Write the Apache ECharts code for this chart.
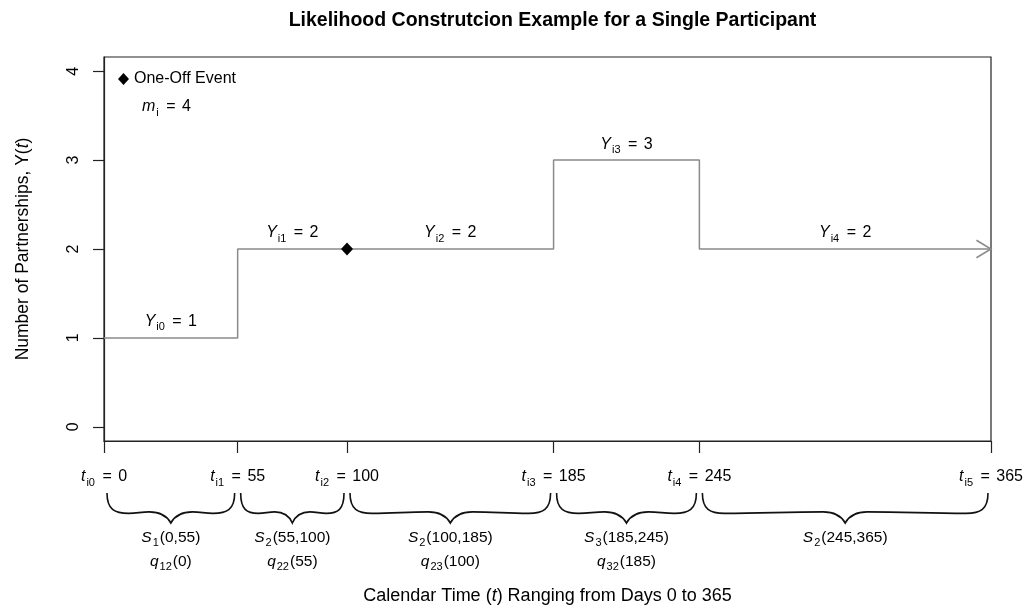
<!DOCTYPE html>
<html>
<head>
<meta charset="utf-8">
<script src="https://cdn.jsdelivr.net/npm/echarts@6/dist/echarts.min.js"></script>
<style>
  html, body { margin: 0; padding: 0; background: #fff; }
  #chart { width: 1027px; height: 610px; }
</style>
</head>
<body>
<div id="chart"></div>
<script>
// Times at which the participant's partnership count may change (days)
const changeTimes = [0, 55, 100, 185, 245, 365];
const timeSubs = ['i0', 'i1', 'i2', 'i3', 'i4', 'i5'];
// Partnership count held over each interval [t_ij, t_i(j+1))
const intervalCounts = [1, 2, 2, 3, 2];
const countSubs = ['i0', 'i1', 'i2', 'i3', 'i4'];
// State index and transition intensity subscripts for each interval
const intervalStates = [1, 2, 2, 3, 2];
const transitionSubs = ['12', '22', '23', '32', null];
// One-off events
const eventTimes = [100];
const eventCounts = [2];
const yTicks = [0, 1, 2, 3, 4];
const transitionTotal = 4;

const FONT = 'Liberation Sans, Arial, Helvetica, sans-serif';
const INK = '#000';
const STEP_COLOR = '#8a8a8a';

function richSet(size, subSize, lh) {
  return {
    n:   { fontFamily: FONT, fontSize: size, color: INK, lineHeight: lh },
    it:  { fontFamily: FONT, fontSize: size, color: INK, lineHeight: lh, fontStyle: 'italic' },
    eq:  { fontFamily: FONT, fontSize: size, color: INK, lineHeight: lh, padding: [0, 2, 0, 2] },
    sub: { fontFamily: FONT, fontSize: subSize, color: INK, lineHeight: subSize, verticalAlign: 'bottom', padding: [0, 1, 0, 1] }
  };
}
const rich16 = richSet(16, 11, 22);
const richBrace = richSet(15.5, 11, 21);
const richTitle = richSet(18, 12, 24);

// step path points: count holds until the next change time
const stepPoints = changeTimes.map((t, i) => [t, intervalCounts[Math.min(i, intervalCounts.length - 1)]]);
const intervalData = intervalCounts.map((c, i) => [changeTimes[i], changeTimes[i + 1], c, intervalStates[i]]);
const eventData = eventTimes.map((t, i) => [t, eventCounts[i]]);

function bracePath(x0, x1, top, H) {
  const xc = (x0 + x1) / 2, hw = (x1 - x0) / 2;
  const r = Math.min(22, hw * 0.34);
  const yb = top + 0.68 * H, ym = top + 0.63 * H, yt = top + H;
  const run = (hw - 2 * r) * 0.4;
  let d = `M${x0},${top} C${x0},${top + 0.55 * H} ${x0 + 0.35 * r},${yb} ${x0 + r},${yb}`;
  d += ` C${x0 + r + run},${yb} ${xc - r - run},${ym} ${xc - r},${ym}`;
  d += ` C${xc - 0.45 * r},${ym} ${xc - 0.15 * r},${top + 0.8 * H} ${xc},${yt}`;
  d += ` C${xc + 0.15 * r},${top + 0.8 * H} ${xc + 0.45 * r},${ym} ${xc + r},${ym}`;
  d += ` C${xc + r + run},${ym} ${x1 - r - run},${yb} ${x1 - r},${yb}`;
  d += ` C${x1 - 0.35 * r},${yb} ${x1},${top + 0.55 * H} ${x1},${top}`;
  return d;
}

function renderInterval(params, api) {
  const i = params.dataIndex;
  const s = api.value(0), e = api.value(1), c = api.value(2), k = api.value(3);
  const pS = api.coord([s, c]);
  const pE = api.coord([e, c]);
  const cs = params.coordSys;
  const base = cs.y + cs.height;
  const xc = (pS[0] + pE[0]) / 2;
  const children = [
    {
      type: 'text',
      style: {
        x: xc, y: pS[1] - 16, align: 'center', verticalAlign: 'middle',
        text: `{it|Y}{sub|${countSubs[i]}}{eq| = }{n|${c}}`, rich: rich16
      }
    },
    {
      type: 'path',
      shape: { pathData: bracePath(pS[0] + 3, pE[0] - 3, base + 52, 30) },
      style: { stroke: '#111', fill: 'none', lineWidth: 1.6 }
    },
    {
      type: 'text',
      style: {
        x: xc, y: base + 97, align: 'center', verticalAlign: 'middle',
        text: `{it|S}{sub|${k}}{n|(${s},${e})}`, rich: richBrace
      }
    }
  ];
  if (transitionSubs[i]) {
    children.push({
      type: 'text',
      style: {
        x: xc, y: base + 121, align: 'center', verticalAlign: 'middle',
        text: `{it|q}{sub|${transitionSubs[i]}}{n|(${s})}`, rich: richBrace
      }
    });
  }
  return { type: 'group', children };
}

function renderArrow(params, api) {
  const p = api.coord([api.value(0), api.value(1)]);
  const len = 17, ang = 31 * Math.PI / 180;
  const dx = len * Math.cos(ang), dy = len * Math.sin(ang);
  return {
    type: 'polyline',
    shape: { points: [[p[0] - dx, p[1] - dy], [p[0], p[1]], [p[0] - dx, p[1] + dy]] },
    style: { stroke: STEP_COLOR, fill: 'none', lineWidth: 1.5 }
  };
}

const chart = echarts.init(document.getElementById('chart'), null, { renderer: 'canvas' });
chart.setOption({
  animation: false,
  backgroundColor: '#fff',
  title: {
    text: 'Likelihood Construtcion Example for a Single Participant',
    left: 547.5, top: 6, textAlign: 'center',
    textStyle: { fontFamily: FONT, fontSize: 19.5, fontWeight: 'bold', color: INK }
  },
  legend: {
    left: 113, top: 66, itemWidth: 11, itemHeight: 12, itemGap: 10,
    data: [{ name: 'One-Off Event', icon: 'diamond', itemStyle: { color: '#000', opacity: 1 } }],
    textStyle: { fontFamily: FONT, fontSize: 16, color: INK }
  },
  graphic: [{
    type: 'text', left: 142, top: 99,
    style: { text: `{it|m}{sub|i}{eq| = }{n|${transitionTotal}}`, rich: rich16 }
  }],
  grid: { left: 104, right: 36, top: 57, bottom: 169, show: true, borderColor: '#222', borderWidth: 1.2, backgroundColor: 'transparent', outerBoundsMode: 'none' },
  xAxis: {
    type: 'value', min: 0, max: 365,
    axisLine: { show: true, onZero: false, lineStyle: { color: '#222', width: 1.2 } },
    axisTick: { show: true, customValues: changeTimes, length: 12, inside: false, lineStyle: { color: '#222', width: 1.2 } },
    axisLabel: {
      show: true, customValues: changeTimes, margin: 25, color: INK,
      formatter: v => `{it|t}{sub|${timeSubs[changeTimes.indexOf(v)]}}{eq| = }{n|${v}}`,
      rich: rich16
    },
    splitLine: { show: false },
    name: 'Calendar Time ({it|t}) Ranging from Days 0 to 365',
    nameLocation: 'middle', nameGap: 143,
    nameTextStyle: { fontFamily: FONT, fontSize: 18, color: INK, rich: richTitle }
  },
  yAxis: {
    type: 'value', min: -0.16, max: 4.16,
    axisLine: { show: true, onZero: false, lineStyle: { color: '#222', width: 1.2 } },
    axisTick: { show: true, customValues: yTicks, length: 11, inside: false, lineStyle: { color: '#222', width: 1.2 } },
    axisLabel: { show: true, customValues: yTicks, rotate: 90, margin: 22, color: INK, fontFamily: FONT, fontSize: 16 },
    splitLine: { show: false },
    name: 'Number of Partnerships, Y({it|t})',
    nameLocation: 'middle', nameGap: 70, nameRotate: 90,
    nameTextStyle: { fontFamily: FONT, fontSize: 17.5, color: INK, rich: richSet(17.5, 12, 22) }
  },
  series: [
    {
      type: 'line', name: 'Partnerships', step: 'end', data: stepPoints,
      showSymbol: false, symbol: 'none', silent: true,
      lineStyle: { color: STEP_COLOR, width: 1.5 }, z: 2
    },
    {
      type: 'custom', name: 'arrow', renderItem: renderArrow,
      data: [stepPoints[stepPoints.length - 1]], silent: true, z: 2
    },
    {
      type: 'scatter', name: 'One-Off Event', data: eventData,
      symbol: 'diamond', symbolSize: [12, 13],
      itemStyle: { color: '#000', opacity: 1 }, z: 5
    },
    {
      type: 'custom', name: 'intervals', renderItem: renderInterval,
      data: intervalData, clip: false, silent: true, z: 3
    }
  ]
});
</script>
</body>
</html>
